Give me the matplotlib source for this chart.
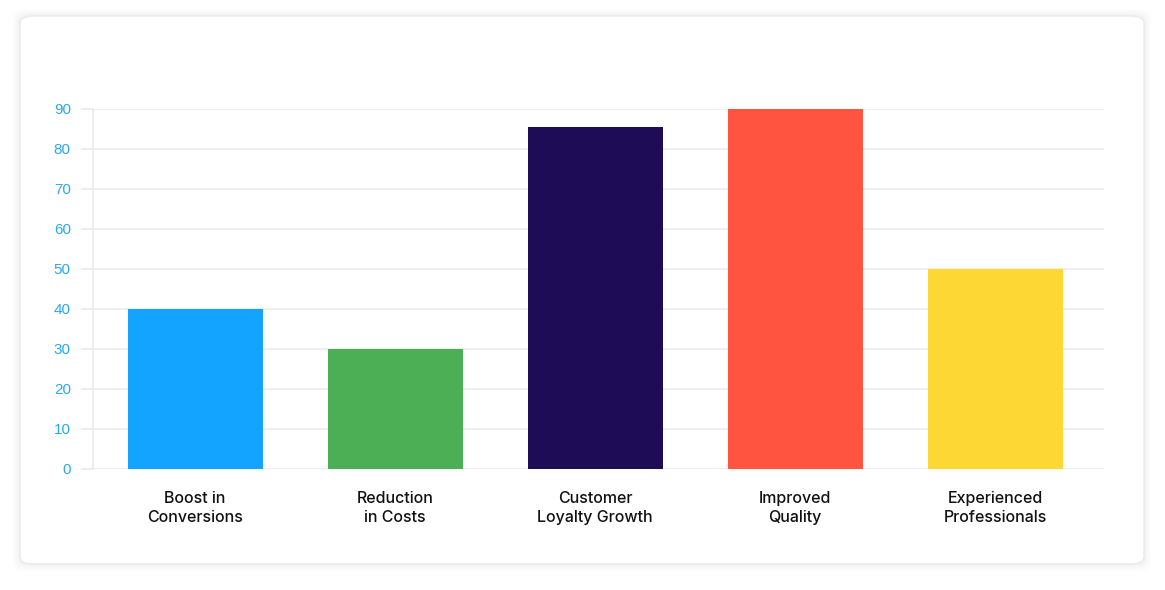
import matplotlib
matplotlib.use("Agg")
import matplotlib.pyplot as plt
from matplotlib.patches import FancyBboxPatch

categories = ["Boost in\nConversions", "Reduction\nin Costs", "Customer\nLoyalty Growth",
              "Improved\nQuality", "Experienced\nProfessionals"]
values = [40, 30, 85.5, 90, 50]
colors = ["#12A4FF", "#4CAF55", "#1E0C57", "#FF5540", "#FDD835"]
yticks = [0, 10, 20, 30, 40, 50, 60, 70, 80, 90]

fig = plt.figure(figsize=(11.65, 5.9), dpi=100)
fig.patch.set_facecolor("white")

# card background with soft shadow
for i, a in enumerate([0.02, 0.015, 0.01]):
    pad = 0.002 * (i + 1)
    fig.patches.append(FancyBboxPatch((20 / 1165 - pad, 26 / 590 - pad * 2), 1124 / 1165 + 2 * pad, 548 / 590 + 2 * pad * 2,
                                      boxstyle="round,pad=0,rounding_size=0.012", transform=fig.transFigure,
                                      facecolor="black", edgecolor="none", alpha=a, zorder=-3))
fig.patches.append(FancyBboxPatch((20 / 1165, 26 / 590), 1124 / 1165, 548 / 590,
                                  boxstyle="round,pad=0,rounding_size=0.012", transform=fig.transFigure,
                                  facecolor="white", edgecolor="#EAEAEA", linewidth=1, zorder=-2))

ax = fig.add_axes([93 / 1165, 1 - 469 / 590, 1011 / 1165, 360 / 590])
ax.set_zorder(2)
ax.set_facecolor("none")
x = list(range(len(categories)))
ax.bar(x, values, width=0.675, color=colors, zorder=3)

ax.set_ylim(0, 90)
ax.set_xlim(-0.51, 4.545)
ax.set_yticks(yticks)
ax.yaxis.grid(True, color="#EBEBEB", linewidth=1.2, zorder=0)
ax.set_axisbelow(True)
ax.tick_params(axis="y", length=9, color="#EBEBEB", width=1.2, labelcolor="#2AA8F5", labelsize=11, pad=7)
for lab in ax.get_yticklabels():
    lab.set_fontfamily("Liberation Sans")
ax.set_xticks(x)
ax.set_xticklabels(categories, fontsize=11.5, fontfamily="Inter", fontweight="medium",
                   color="#111111", linespacing=1.38)
ax.tick_params(axis="x", length=0, pad=15.5)

for s in ["top", "right", "bottom"]:
    ax.spines[s].set_visible(False)
ax.spines["left"].set_color("#EBEBEB")
ax.spines["left"].set_linewidth(1.2)

fig.savefig("out.png", dpi=100, facecolor="white")
